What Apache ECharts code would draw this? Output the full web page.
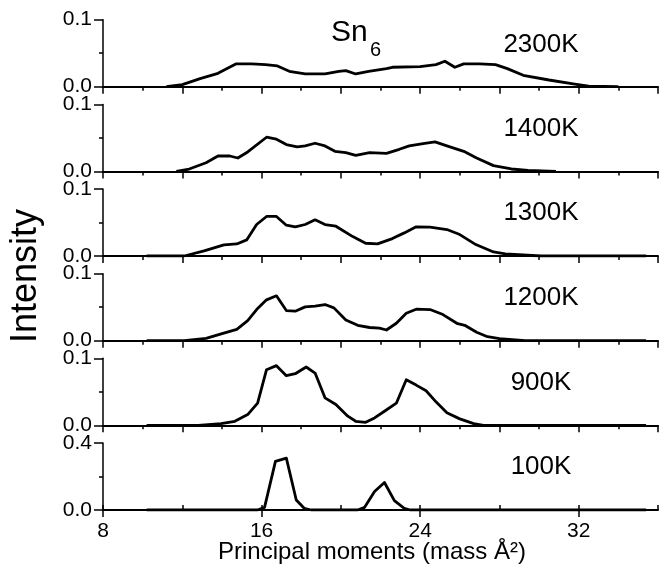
<!DOCTYPE html>
<html>
<head>
<meta charset="utf-8">
<script src="https://cdn.jsdelivr.net/npm/echarts@6/dist/echarts.min.js"></script>
<style>html,body{margin:0;padding:0;background:#fff}#c{width:662px;height:569px}</style>
</head>
<body>
<div id="c"></div>
<script>
// ---- data ----
const temps = ['2300K', '1400K', '1300K', '1200K', '900K', '100K'];
const xTickLabels = ['8', '16', '24', '32'];

const m2300 = [11.2, 12.0, 12.9, 13.8, 14.7, 15.5, 16.2, 16.8, 17.4, 18.2, 19.2, 19.9, 20.25, 20.75, 21.4, 22.3, 22.6, 24.0, 24.8, 25.25, 25.75, 26.2, 27.0, 27.8, 28.4, 29.2, 30.5, 31.8, 32.5, 34.0];
const i2300 = [0, 0.003, 0.012, 0.020, 0.034, 0.034, 0.033, 0.031, 0.023, 0.019, 0.019, 0.023, 0.024, 0.019, 0.023, 0.027, 0.029, 0.030, 0.033, 0.038, 0.029, 0.034, 0.034, 0.033, 0.027, 0.017, 0.010, 0.004, 0.001, 0];

const m1400 = [11.7, 12.35, 13.2, 13.8, 14.4, 14.8, 15.3, 16.25, 16.75, 17.25, 17.8, 18.2, 18.7, 19.2, 19.7, 20.25, 20.75, 21.45, 22.3, 22.95, 23.45, 24.15, 24.75, 25.35, 26.2, 26.85, 27.7, 28.6, 29.45, 30.85];
const i1400 = [0, 0.0035, 0.013, 0.023, 0.023, 0.020, 0.029, 0.051, 0.048, 0.040, 0.0365, 0.038, 0.042, 0.038, 0.030, 0.028, 0.024, 0.028, 0.027, 0.033, 0.038, 0.0415, 0.044, 0.038, 0.030, 0.020, 0.0086, 0.0036, 0.0015, 0];

const m1300 = [10.2, 12.1, 13.1, 14.1, 14.75, 15.25, 15.75, 16.25, 16.75, 17.25, 17.7, 18.2, 18.7, 19.2, 19.75, 20.6, 21.25, 21.85, 22.6, 23.2, 23.8, 24.5, 25.35, 26.0, 26.75, 27.7, 28.3, 29.2, 30.1, 35.4];
const i1300 = [0, 0, 0.0076, 0.0167, 0.018, 0.024, 0.047, 0.059, 0.059, 0.046, 0.0435, 0.047, 0.054, 0.047, 0.0445, 0.029, 0.019, 0.018, 0.026, 0.0345, 0.0435, 0.043, 0.0395, 0.032, 0.018, 0.006, 0.003, 0.0015, 0, 0];

const m1200 = [10.2, 12.1, 13.2, 14.05, 14.75, 15.3, 15.75, 16.25, 16.75, 17.25, 17.7, 18.2, 18.7, 19.2, 19.65, 20.25, 20.85, 21.45, 21.95, 22.3, 22.8, 23.3, 23.8, 24.5, 25.15, 25.85, 26.25, 26.85, 27.4, 28.0, 29.3, 35.4];
const i1200 = [0, 0, 0.0035, 0.011, 0.017, 0.030, 0.0465, 0.061, 0.067, 0.045, 0.044, 0.0505, 0.0515, 0.054, 0.049, 0.031, 0.023, 0.0197, 0.0187, 0.016, 0.026, 0.041, 0.047, 0.0465, 0.039, 0.026, 0.023, 0.0126, 0.006, 0.003, 0, 0];

const m900 = [10.2, 12.8, 13.3, 13.95, 14.65, 15.3, 15.8, 16.25, 16.75, 17.25, 17.7, 18.25, 18.7, 19.2, 19.75, 20.35, 20.75, 21.25, 21.7, 22.2, 22.8, 23.3, 23.8, 24.3, 24.8, 25.35, 26.0, 26.7, 27.2, 35.4];
const i900 = [0, 0, 0.001, 0.0025, 0.006, 0.016, 0.033, 0.083, 0.089, 0.074, 0.077, 0.087, 0.078, 0.041, 0.031, 0.0136, 0.006, 0.0045, 0.011, 0.021, 0.033, 0.068, 0.060, 0.0515, 0.035, 0.0187, 0.0096, 0.0025, 0, 0];

const m100 = [10.2, 15.8, 16.15, 16.7, 17.25, 17.75, 18.15, 18.5, 20.85, 21.2, 21.7, 22.2, 22.7, 23.2, 23.5, 35.4];
const i100 = [0, 0, 0.016, 0.29, 0.31, 0.06, 0.01, 0, 0, 0.016, 0.11, 0.164, 0.056, 0.01, 0, 0];

const yMax = [0.1, 0.1, 0.1, 0.1, 0.1, 0.4];
// --------------------------------------

const moments = [m2300, m1400, m1300, m1200, m900, m100];
const intens = [i2300, i1400, i1300, i1200, i900, i100];

const FONT = '"Liberation Sans", Arial, sans-serif';
const bottoms = [86.7, 171.4, 256, 340.7, 425.3, 510];
const H = 67;

const grids = [], xAxes = [], yAxes = [], series = [];
for (let k = 0; k < 6; k++) {
  grids.push({ left: 103, right: 4, top: bottoms[k] - H, height: H });
  const last = k === 5;
  xAxes.push({
    type: 'value', gridIndex: k, min: 8, max: 36, interval: last ? 8 : 4,
    axisLine: { show: true, onZero: false, lineStyle: { color: '#000', width: 2 } },
    axisTick: { show: true, length: 7, lineStyle: { color: '#000', width: 1.5 } },
    minorTick: { show: !last, splitNumber: 2, length: 4, lineStyle: { color: '#000', width: 1.5 } },
    axisLabel: {
      show: last, color: '#000', fontSize: 21, fontFamily: FONT, margin: 11,
      showMaxLabel: false,
      formatter: v => xTickLabels.indexOf(String(v)) >= 0 ? String(v) : ''
    },
    splitLine: { show: false }
  });
  yAxes.push({
    type: 'value', gridIndex: k, min: 0, max: yMax[k], interval: yMax[k],
    axisLine: { show: true, lineStyle: { color: '#000', width: 1.5 } },
    axisTick: { show: true, length: 9, lineStyle: { color: '#000', width: 1.5 } },
    minorTick: { show: true, splitNumber: 2, length: 4, lineStyle: { color: '#000', width: 1.5 } },
    axisLabel: { color: '#000', fontSize: 21, fontFamily: FONT, margin: 11, formatter: v => v.toFixed(1) },
    splitLine: { show: false }
  });
  series.push({
    type: 'line', xAxisIndex: k, yAxisIndex: k, name: temps[k],
    data: moments[k].map((m, j) => [m, intens[k][j]]),
    showSymbol: false, symbol: 'none', smooth: false,
    lineStyle: { color: '#000', width: 2.8, join: 'round' }, z: 5
  });
}
// inside minor ticks on bottom axis
xAxes.push({
  type: 'value', gridIndex: 5, min: 8, max: 36, interval: 4, position: 'bottom',
  axisLine: { show: false }, axisLabel: { show: false }, splitLine: { show: false },
  axisTick: { show: true, inside: true, length: 5, lineStyle: { color: '#000', width: 1.5 } }
});

const labelY = [45, 129, 213, 298, 383, 467];
const graphic = [
  { type: 'text', x: 331, y: 32.5, style: { text: 'Sn', fontSize: 30, fontFamily: FONT, fill: '#000', align: 'left', verticalAlign: 'middle' } },
  { type: 'text', x: 370, y: 50.5, style: { text: '6', fontSize: 20, fontFamily: FONT, fill: '#000', align: 'left', verticalAlign: 'middle' } },
  { type: 'text', x: 26, y: 276, rotation: Math.PI / 2, style: { text: 'Intensity', fontSize: 36, fontFamily: FONT, fill: '#000', align: 'center', verticalAlign: 'middle' } },
  { type: 'text', x: 372, y: 552, style: { text: 'Principal moments (mass Å²)', fontSize: 24, fontFamily: FONT, fill: '#000', align: 'center', verticalAlign: 'middle' } }
];
temps.forEach((t, k) => graphic.push({
  type: 'text', x: 541, y: labelY[k],
  style: { text: t, fontSize: 26, fontFamily: FONT, fill: '#000', align: 'center', verticalAlign: 'middle' }
}));

const chart = echarts.init(document.getElementById('c'));
chart.setOption({
  animation: false,
  backgroundColor: '#fff',
  grid: grids, xAxis: xAxes, yAxis: yAxes, series: series, graphic: graphic
});
</script>
</body>
</html>
